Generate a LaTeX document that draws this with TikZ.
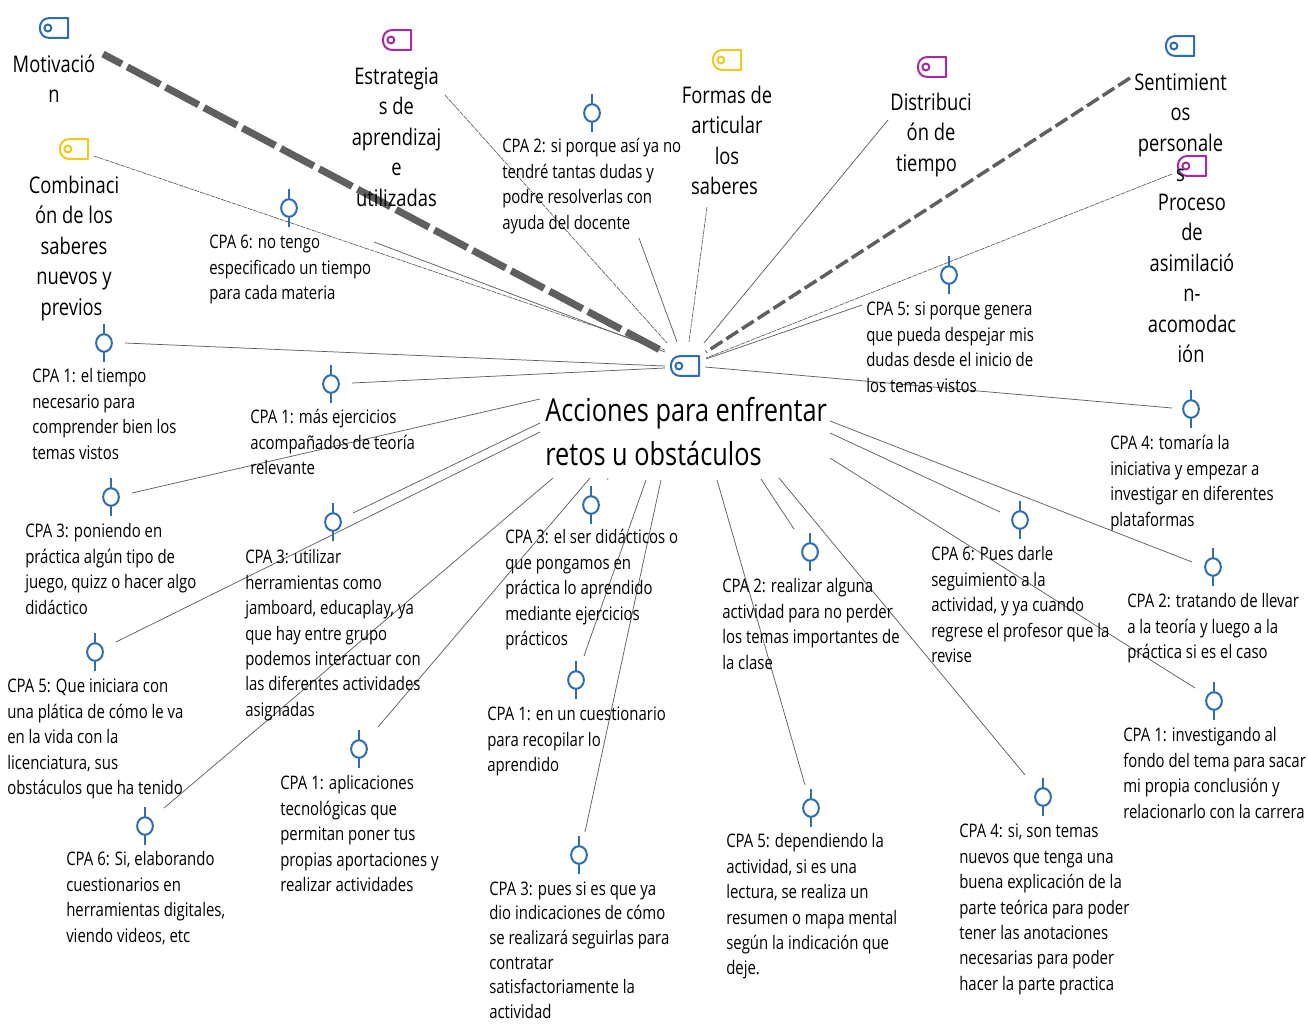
\documentclass[tikz,border=0pt]{standalone}
\usepackage{fontspec}
\setmainfont[FakeStretch=0.8]{Open Sans}
\definecolor{tagblue}{HTML}{2E6DB0}
\definecolor{tagpurple}{HTML}{A52BA5}
\definecolor{tagyellow}{HTML}{F2C81E}
\definecolor{linegray}{HTML}{5F5F5F}
\newcommand{\cpafont}{\fontsize{14.0pt}{19.1pt}\selectfont}
\newcommand{\catfont}{\fontsize{17.2pt}{22.9pt}\selectfont}
\newcommand{\titlefont}{\fontsize{23.75pt}{33pt}\selectfont}
\tikzset{
  cpa/.style={anchor=north west,inner sep=0pt,align=left,font=\cpafont,yshift=8.6pt},
  cat/.style={anchor=north,inner sep=0pt,align=center,font=\catfont,yshift=10.2pt},
  titletext/.style={anchor=north west,inner sep=0pt,align=left,font=\titlefont,yshift=17.5pt},
  thin link/.style={draw=linegray,line width=0.55pt},
  fine dash/.style={draw=linegray,line width=0.5pt,dash pattern=on 3.5pt off 0.7pt},
  heavy dash/.style={draw=linegray,line width=5.3pt,dash pattern=on 28pt off 4.6pt,dash phase=12pt},
  mid dash/.style={draw=linegray,line width=2.6pt,dash pattern=on 10.5pt off 3.5pt},
  pics/tagicon/.style={code={
    \draw[#1,line width=1.5pt,line join=round] (10.6pt,-7.4pt) -- (10.6pt,7.4pt) -- (-4pt,7.4pt)
      .. controls (-8pt,7.4pt) and (-10.6pt,4pt) .. (-10.6pt,0pt)
      .. controls (-10.6pt,-4pt) and (-8pt,-7.4pt) .. (-4pt,-7.4pt) -- cycle;
    \draw[#1,line width=1.5pt] (-4.6pt,0pt) circle (2.6pt);}},
  pics/pinicon/.style={code={
    \draw[tagblue,line width=1.5pt] (0,-14pt) -- (0,-6.6pt) (0,6.6pt) -- (0,14pt);
    \draw[tagblue,line width=1.5pt] (0,0) ellipse (5.9pt and 6.6pt);}},
}
\newcommand{\link}[4]{\coordinate (#2a) at (#3); \coordinate (#2b) at (#4); \draw[#1] (#2a) -- (#2b);}
\newcommand{\tagat}[3]{\pic (#1) at (#2) {tagicon=#3};}
\newcommand{\pinat}[2]{\pic (#1) at (#2) {pinicon};}
\begin{document}
\begin{tikzpicture}[x=0.75pt,y=-0.75pt]
\useasboundingbox[fill=white] (0,0) rectangle (1308,1024);
% connectors
\link{heavy dash}{l1}{103,54}{664,352}
\link{mid dash}{l2}{1130,78}{706,352}
\link{fine dash}{l3}{445,95}{667,343}
\link{thin link}{l4}{639,238}{677,342}
\link{fine dash}{l5}{707,207}{689,342}
\link{thin link}{l6}{888,120}{704,343}
\link{fine dash}{l7}{1172,174}{706,358}
\link{thin link}{l8}{862,305}{706,359}
\link{thin link}{l9}{705,367}{1172,408}
\link{fine dash}{l10}{94,156}{665,350}
\link{thin link}{l11}{374,242}{665,352}
\link{thin link}{l12}{125,343}{665,366}
\link{thin link}{l13}{352,383}{665,368}
\link{thin link}{l14}{132,493}{540,399}
\link{thin link}{l15}{353,513}{540,423}
\link{thin link}{l16}{116,642}{540,432}
\link{thin link}{l17}{164,808}{553,478}
\link{thin link}{l18}{378,727}{590,478}
\link{thin link}{l19}{584,656}{646,480}
\link{thin link}{l20}{585,832}{661,480}
\link{thin link}{l21}{805,785}{717,480}
\link{thin link}{l22}{794,529}{761,479}
\link{thin link}{l23}{1025,775}{779,478}
\link{thin link}{l24}{830,421}{1192,562}
\link{thin link}{l25}{830,433}{1000,512}
\link{thin link}{l26}{830,458}{1195,688}
\link{thin link}{l27}{607.5,478.5}{608,480}
% tags
\tagat{t1}{54,28}{tagblue}
\tagat{t2}{397,40}{tagpurple}
\tagat{t3}{727,60}{tagyellow}
\tagat{t4}{932,67}{tagpurple}
\tagat{t5}{1180,46}{tagblue}
\tagat{t6}{1192,166}{tagpurple}
\tagat{t7}{74,149}{tagyellow}
\tagat{t8}{685,366}{tagblue}
% pins
\pinat{p1}{592,113}
\pinat{p2}{289,208}
\pinat{p3}{104,343}
\pinat{p4}{331,384}
\pinat{p5}{949,275}
\pinat{p6}{1191,409}
\pinat{p7}{111,497}
\pinat{p8}{333,522}
\pinat{p9}{591,505}
\pinat{p10}{1020,520}
\pinat{p11}{1213,567}
\pinat{p12}{810,552}
\pinat{p13}{95,652}
\pinat{p14}{576,680}
\pinat{p15}{1214,701}
\pinat{p16}{359,749}
\pinat{p17}{811,808}
\pinat{p18}{1043,797}
\pinat{p19}{145,826}
\pinat{p20}{579,855}
% title
\node[titletext] (title) at (545,414) {\strut Acciones para enfrentar\\retos u obstáculos};
% category labels
\node[cat] (c1) at (54,64) {\strut Motivació\\n};
\node[cat] (c2) at (396.5,76) {\strut Estrategia\\s de\\aprendizaj\\e\\utilizadas};
\node[cat] (c3) at (727,95) {\strut Formas de\\articular\\los\hspace*{3.75pt}\\saberes\hspace*{3.75pt}};
\node[cat] (c4) at (931,102) {\strut Distribuci\\ón de\\tiempo\hspace*{6.75pt}};
\node[cat] (c5) at (1180.5,82) {\strut Sentimient\\os\\personale\\s};
\node[cat] (c6) at (1192,202) {\strut Proceso\\de\\asimilació\\n-\\acomodac\\ión\hspace*{1.5pt}};
\node[cat] (c7) at (74,185) {\strut Combinaci\\ón de los\\saberes\\nuevos y\\previos\hspace*{3.75pt}};
% answers
\node[cpa] (a1) at (502,146) {\strut CPA 2: si porque así ya no\\tendré tantas dudas y\\podre resolverlas con\\ayuda del docente};
\node[cpa] (a2) at (209,242) {\strut CPA 6: no tengo\\especificado un tiempo\\para cada materia};
\node[cpa] (a3) at (32,376) {\strut CPA 1: el tiempo\\necesario para\\comprender bien los\\temas vistos};
\node[cpa] (a4) at (250,417) {\strut CPA 1: más ejercicios\\acompañados de teoría\\relevante};
\node[cpa] (a5) at (866,309) {\strut CPA 5: si porque genera\\que pueda despejar mis\\dudas desde el inicio de\\los temas vistos};
\node[cpa] (a6) at (1110,443) {\strut CPA 4: tomaría la\\iniciativa y empezar a\\investigar en diferentes\\plataformas};
\node[cpa] (a7) at (25,531) {\strut CPA 3: poniendo en\\práctica algún tipo de\\juego, quizz o hacer algo\\didáctico};
\node[cpa] (a8) at (245,557) {\strut CPA 3: utilizar\\herramientas como\\jamboard, educaplay, ya\\que hay entre grupo\\podemos interactuar con\\las diferentes actividades\\asignadas};
\node[cpa] (a9) at (505,537) {\strut CPA 3: el ser didácticos o\\que pongamos en\\práctica lo aprendido\\mediante ejercicios\\prácticos};
\node[cpa] (a10) at (931,554) {\strut CPA 6: Pues darle\\seguimiento a la\\actividad, y ya cuando\\regrese el profesor que la\\revise};
\node[cpa] (a11) at (1127,601) {\strut CPA 2: tratando de llevar\\a la teoría y luego a la\\práctica si es el caso};
\node[cpa] (a12) at (722,586) {\strut CPA 2: realizar alguna\\actividad para no perder\\los temas importantes de\\la clase};
\node[cpa] (a13) at (7,686) {\strut CPA 5: Que iniciara con\\una plática de cómo le va\\en la vida con la\\licenciatura, sus\\obstáculos que ha tenido};
\node[cpa] (a14) at (487,714) {\strut CPA 1: en un cuestionario\\para recopilar lo\\aprendido};
\node[cpa] (a15) at (1123,735) {\strut CPA 1: investigando al\\fondo del tema para sacar\\mi propia conclusión y\\relacionarlo con la carrera};
\node[cpa] (a16) at (280,783) {\strut CPA 1: aplicaciones\\tecnológicas que\\permitan poner tus\\propias aportaciones y\\realizar actividades};
\node[cpa] (a17) at (726,841) {\strut CPA 5: dependiendo la\\actividad, si es una\\lectura, se realiza un\\resumen o mapa mental\\según la indicación que\\deje.};
\node[cpa] (a18) at (959,831) {\strut CPA 4: si, son temas\\nuevos que tenga una\\buena explicación de la\\parte teórica para poder\\tener las anotaciones\\necesarias para poder\\hacer la parte practica};
\node[cpa] (a19) at (66,859) {\strut CPA 6: Si, elaborando\\cuestionarios en\\herramientas digitales,\\viendo videos, etc};
\node[cpa,font={\fontsize{14.0pt}{18.5pt}\selectfont}] (a20) at (489,889) {\strut CPA 3: pues si es que ya\\dio indicaciones de cómo\\se realizará seguirlas para\\contratar\\satisfactoriamente la\\actividad};
\end{tikzpicture}
\end{document}
